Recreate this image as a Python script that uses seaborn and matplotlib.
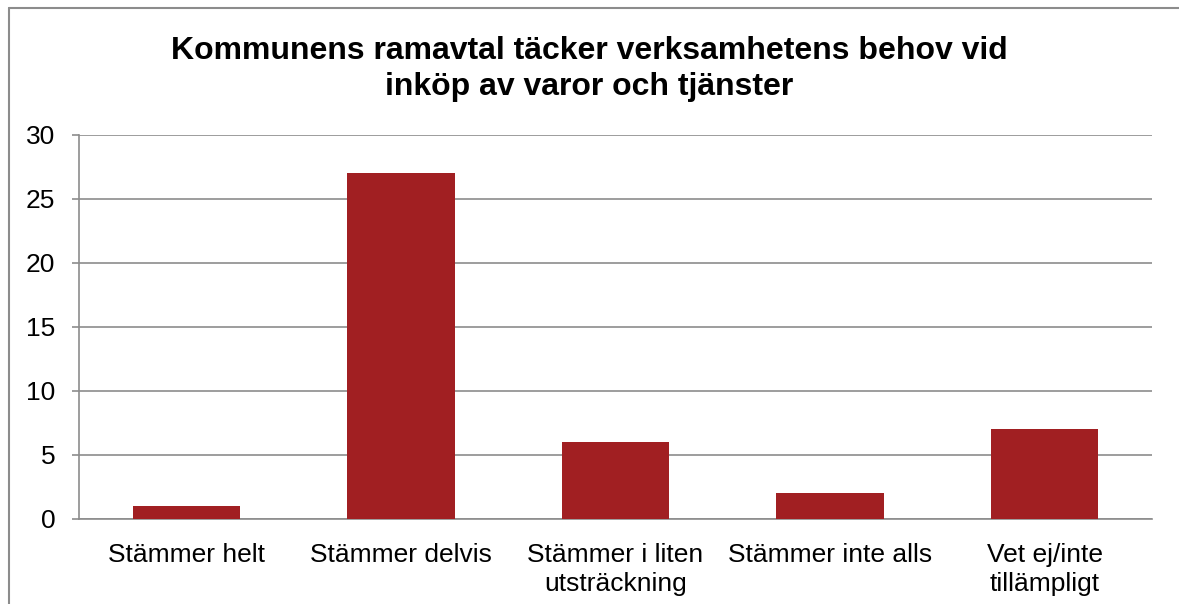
import matplotlib
matplotlib.use('Agg')
import matplotlib.pyplot as plt
import seaborn as sns
import pandas as pd

categories = ['Stämmer helt', 'Stämmer delvis', 'Stämmer i liten\nutsträckning',
              'Stämmer inte alls', 'Vet ej/inte\ntillämpligt']
values = [1, 27, 6, 2, 7]
title = 'Kommunens ramavtal täcker verksamhetens behov vid\ninköp av varor och tjänster'

sns.set_style('white')
plt.rcParams['font.family'] = ['Liberation Sans', 'DejaVu Sans']
plt.rcParams['text.color'] = 'black'
plt.rcParams['xtick.labelcolor'] = 'black'
plt.rcParams['ytick.labelcolor'] = 'black'

df = pd.DataFrame({'svar': categories, 'antal': values})

fig = plt.figure(figsize=(11.79, 6.04), dpi=100)
ax = fig.add_axes([79 / 1179, 1 - 519 / 604, (1152 - 79) / 1179, (519 - 135) / 604])

sns.barplot(data=df, x='svar', y='antal', color='#A11F22', width=0.5,
            saturation=1, linewidth=0, ax=ax, zorder=3)

ax.set_ylim(0, 30)
ax.set_yticks(range(0, 31, 5))
ax.set_xlim(-0.5, len(categories) - 0.5)
ax.yaxis.grid(True, color='#8c8c8c', linewidth=1.2, zorder=0)
ax.set_axisbelow(True)
for s in ['top', 'right']:
    ax.spines[s].set_visible(False)
for s in ['left', 'bottom']:
    ax.spines[s].set_color('#8c8c8c')
    ax.spines[s].set_linewidth(1.2)

ax.set_xticks(range(len(categories)))
ax.set_xticklabels(categories, linespacing=1.3)
ax.set_xticks([i - 0.5 for i in range(len(categories) + 1)], minor=True)
ax.tick_params(axis='x', which='major', length=0, pad=17, labelsize=19)
ax.tick_params(axis='x', which='minor', length=5, width=1.2, color='#8c8c8c', direction='out')
ax.tick_params(axis='y', length=5, width=1.2, color='#8c8c8c', pad=12, labelsize=19,
               left=True, direction='out')
ax.set_xlabel('')
ax.set_ylabel('')

fig.text(0.5, 1 - 69 / 604, title, ha='center', va='center', fontsize=23, fontweight='bold',
         linespacing=1.28)

# chart area border (left and top visible)
fig.add_artist(plt.Line2D([9 / 1179, 9 / 1179], [0, 1 - 8 / 604], color='#8c8c8c', lw=1.5,
                          transform=fig.transFigure))
fig.add_artist(plt.Line2D([9 / 1179, 1], [1 - 8 / 604, 1 - 8 / 604], color='#8c8c8c', lw=1.5,
                          transform=fig.transFigure))

fig.savefig('out.png', dpi=100)
